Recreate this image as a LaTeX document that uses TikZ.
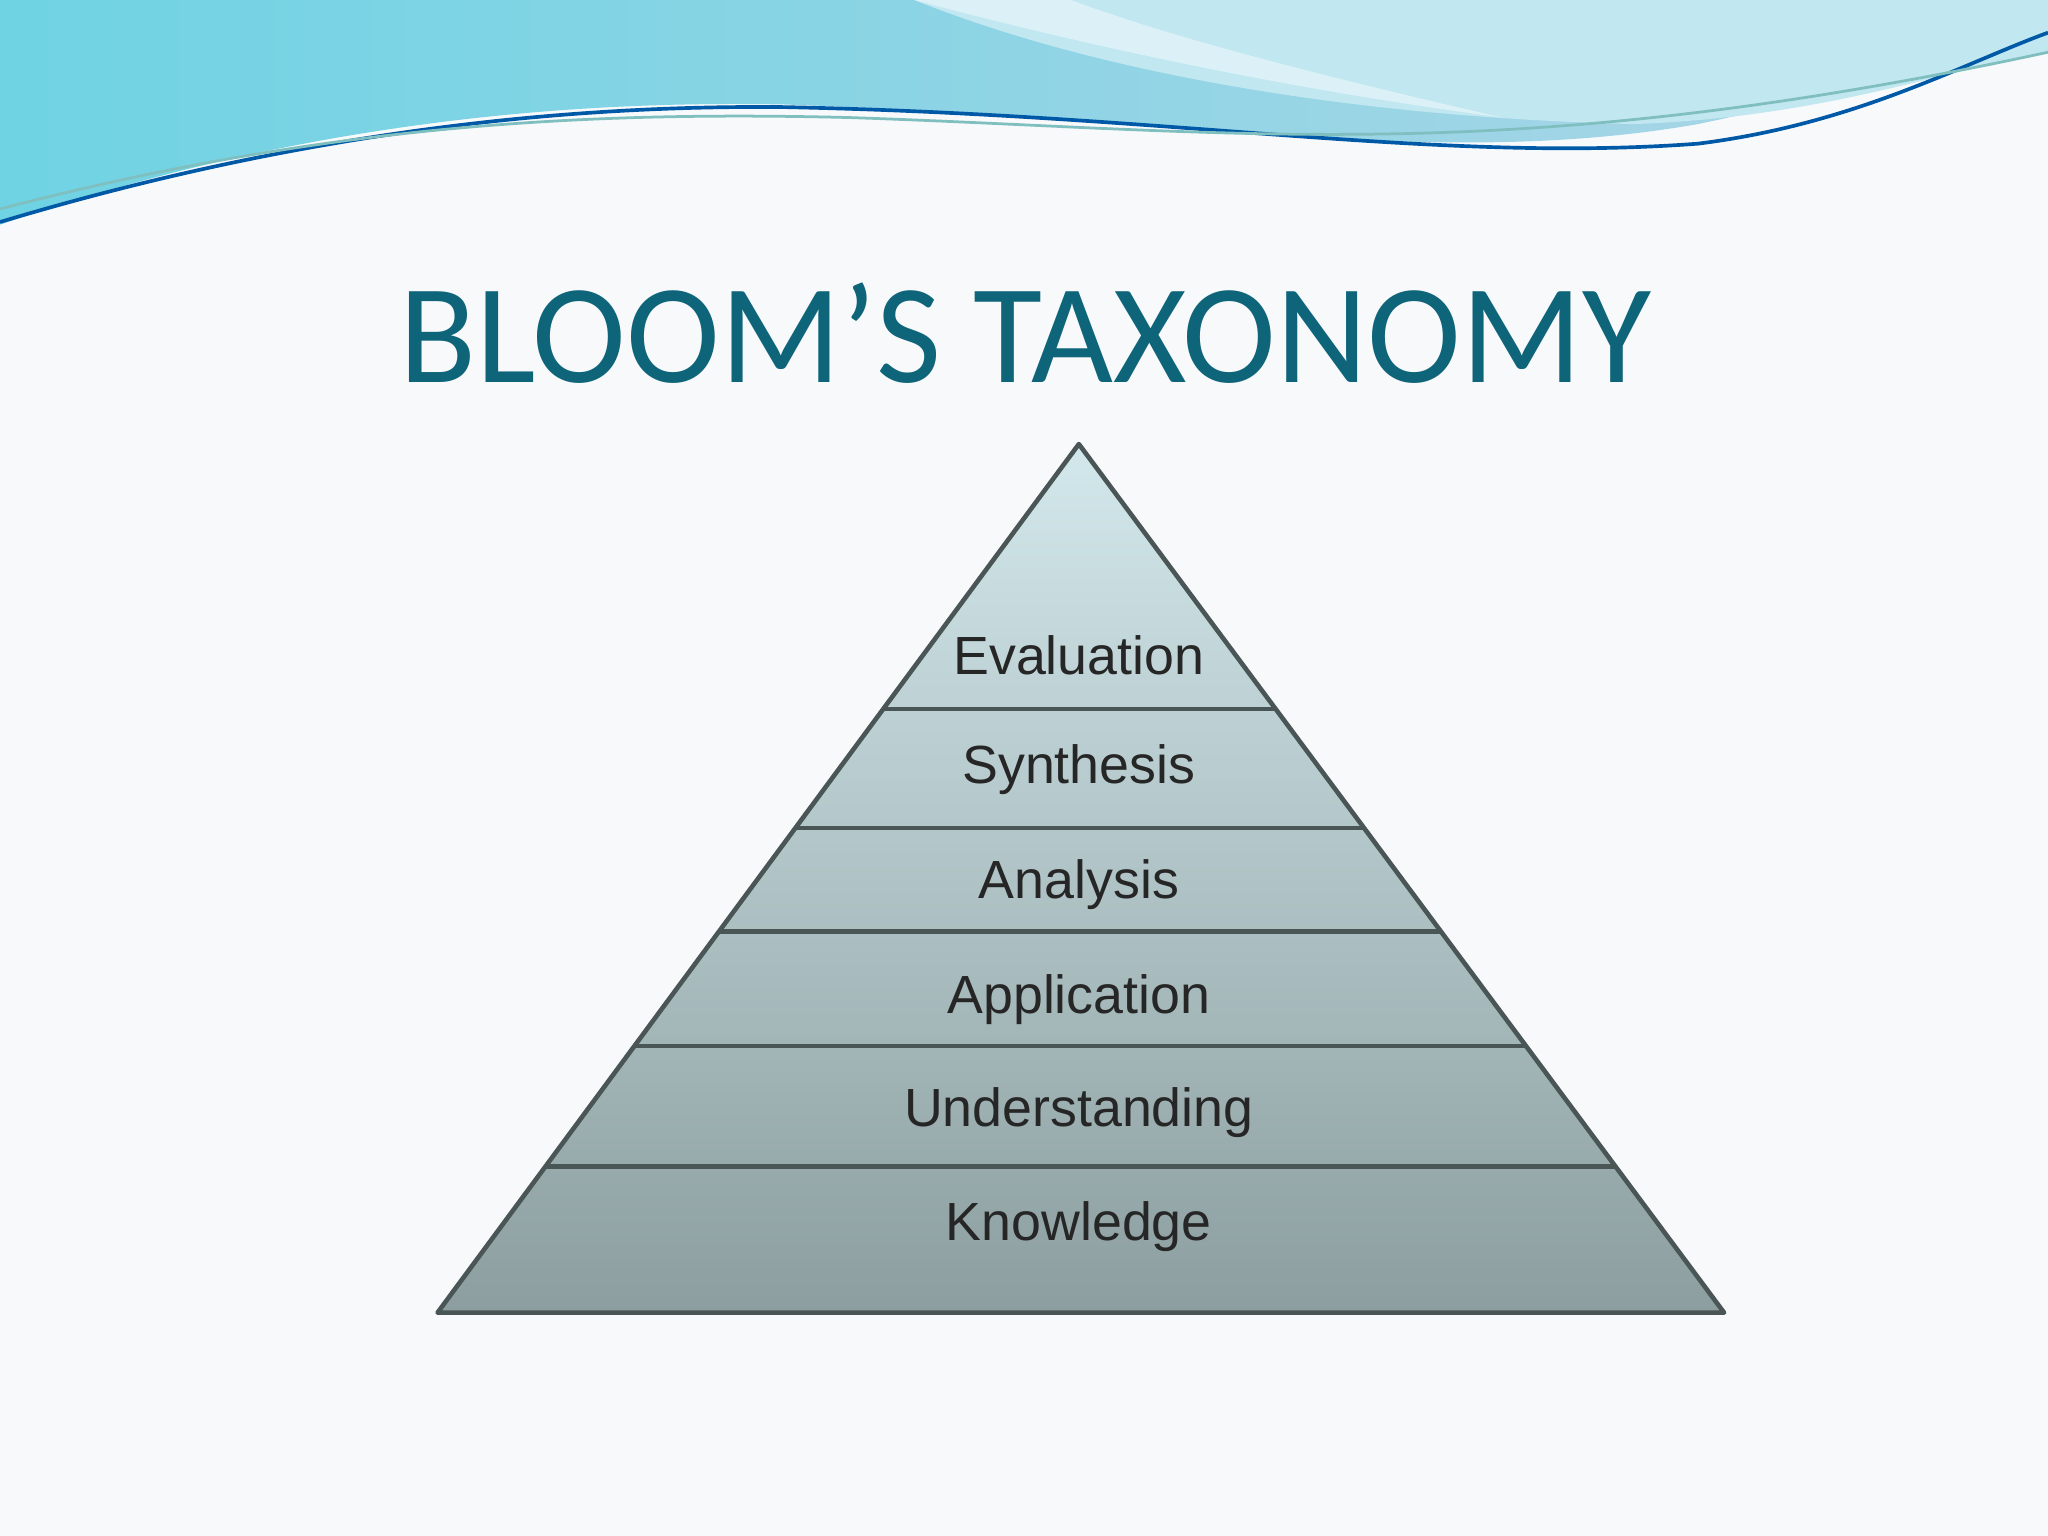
\documentclass[tikz,border=0pt]{standalone}
\usepackage{fontspec}
\setmainfont{Carlito}
\newfontfamily\labfont{Liberation Sans}
\usetikzlibrary{calc}
\definecolor{titlec}{HTML}{0E6479}
\definecolor{bgc}{HTML}{F8F9FB}
\definecolor{wavea}{HTML}{6FD3E3}
\definecolor{waveb}{HTML}{8CC4DC}
\definecolor{wavec}{HTML}{A6DDEA}
\definecolor{pyrtop}{HTML}{D3E8EC}
\definecolor{pyrbot}{HTML}{8C9E9F}
\definecolor{edgec}{HTML}{4A5556}
\tikzset{lab/.style={font=\labfont\fontsize{11.7pt}{14pt}\selectfont, text=black!85},
  band/.style={draw=edgec, line width=1pt}}
\begin{document}
\begin{tikzpicture}[x=0.01cm,y=-0.01cm]
\useasboundingbox (0,0) rectangle (1568,1176);
\fill[bgc] (0,0) rectangle (1568,1176);
% top wave band
\shade[left color=wavea, right color=waveb!70!white]
  (0,0) -- (0,172) .. controls (150,120) and (350,75) .. (600,80)
  .. controls (900,90) and (1100,130) .. (1300,95)
  .. controls (1420,70) and (1500,40) .. (1568,20) -- (1568,0) -- cycle;
\fill[wavec!70!white] (700,0) .. controls (850,60) and (1050,90) .. (1250,95)
  .. controls (1400,90) and (1500,50) .. (1568,40) -- (1568,0) -- cycle;
\fill[white!60!wavec] (700,0) .. controls (850,40) and (1000,70) .. (1150,90)
  .. controls (1020,60) and (900,30) .. (820,0) -- cycle;
\draw[teal!70!blue, line width=0.8pt] (0,170) .. controls (200,110) and (400,80) .. (600,82)
  .. controls (900,88) and (1100,125) .. (1300,110) .. controls (1420,95) and (1500,50) .. (1568,25);
\draw[white!50!teal, line width=0.6pt] (0,160) .. controls (250,95) and (450,85) .. (650,90)
  .. controls (950,100) and (1150,130) .. (1568,40);
% title
\node[text=titlec, font=\fontsize{30.8pt}{34pt}\selectfont] (title) at (785,255) {BLOOM’S TAXONOMY};
% pyramid
\coordinate (apex) at (826,340);
\coordinate (bl) at (335,1005);
\coordinate (br) at (1320,1005);
\shade[top color=pyrtop, bottom color=pyrbot] (apex) -- (bl) -- (br) -- cycle;
\draw[edgec, line width=1pt, line join=round] (apex) -- (bl) -- (br) -- cycle;
\foreach \t/\n in {0.305/a,0.442/b,0.561/c,0.693/d,0.832/e}{
  \coordinate (l\n) at ($(apex)!\t!(bl)$);
  \coordinate (r\n) at ($(apex)!\t!(br)$);
  \draw[band] (l\n) -- (r\n);
}
\node[lab] (eval) at (826,502) {Evaluation};
\node[lab] (syn) at (826,589) {Synthesis};
\node[lab] (ana) at (826,677) {Analysis};
\node[lab] (app) at (826,765) {Application};
\node[lab] (und) at (826,852) {Understanding};
\node[lab] (kno) at (826,939) {Knowledge};
\end{tikzpicture}
\end{document}
